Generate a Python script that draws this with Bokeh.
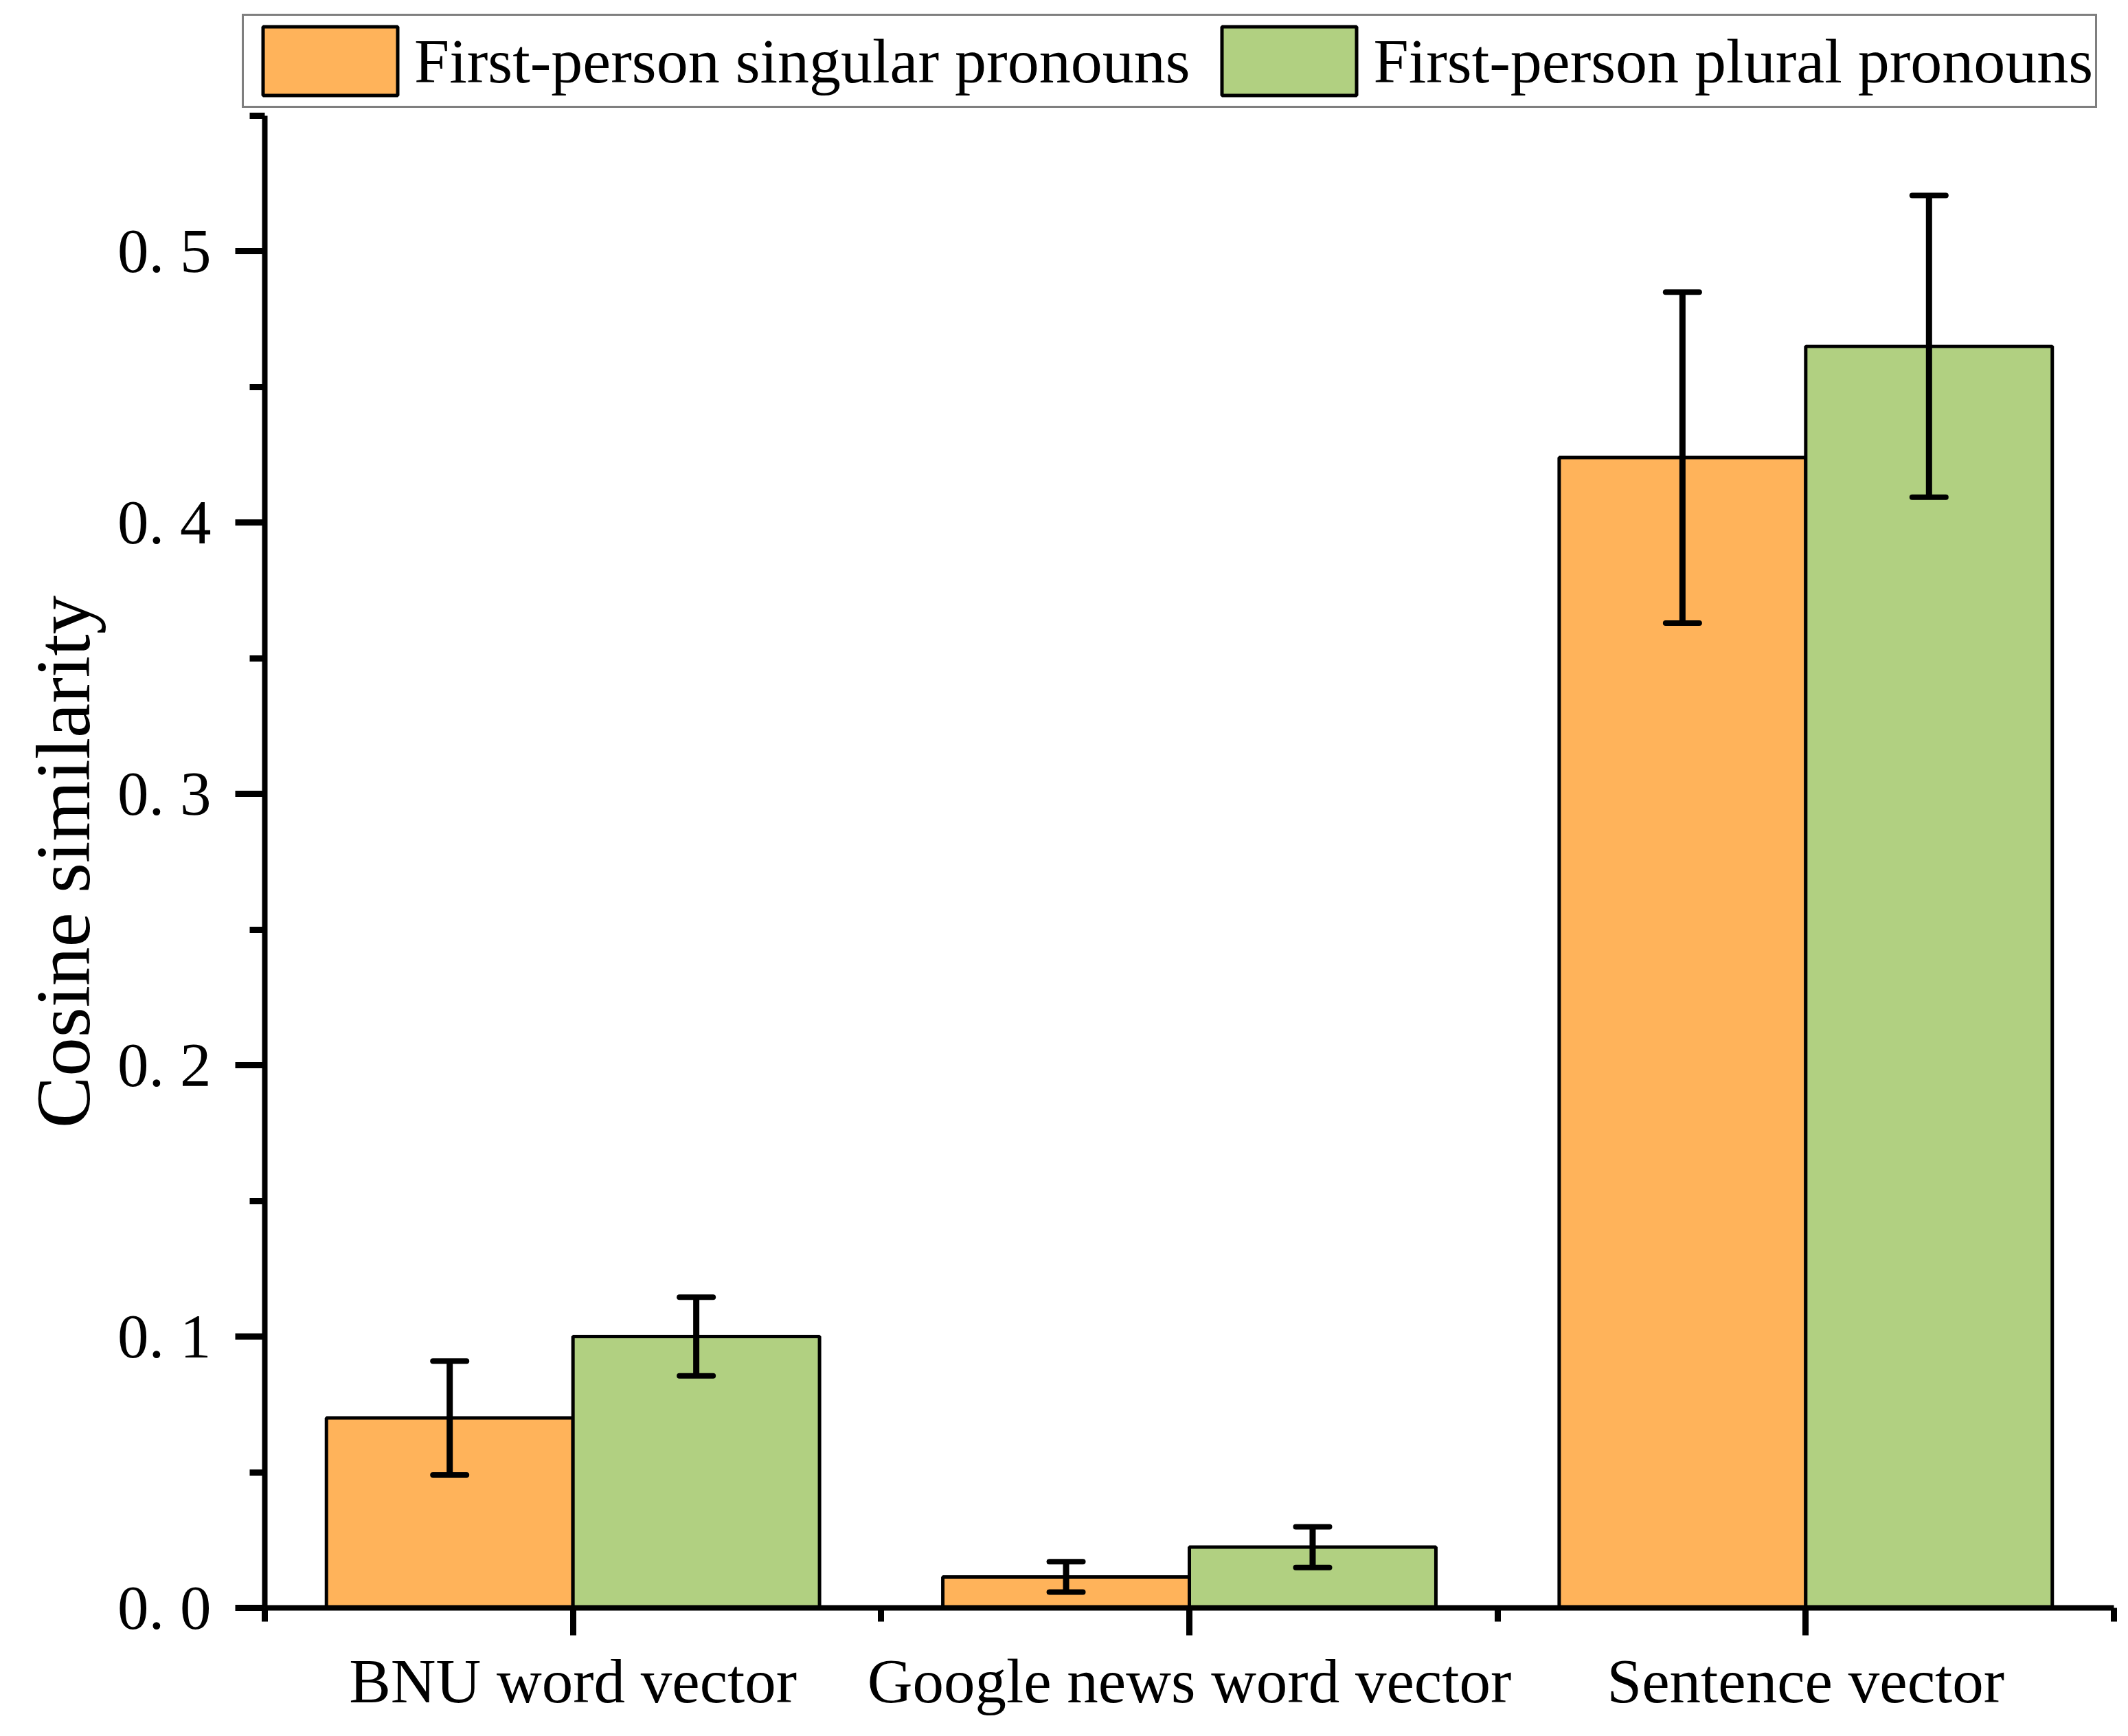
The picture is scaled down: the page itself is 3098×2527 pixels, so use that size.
import numpy as np
from bokeh.plotting import figure
from bokeh.layouts import column
from bokeh.models import (Range1d, FixedTicker, CustomJSTickFormatter, Whisker, TeeHead,
                          ColumnDataSource, Legend, LegendItem)
from bokeh.embed import file_html
from bokeh.resources import INLINE

# ---- data ----
categories = ["BNU word vector", "Google news word vector", "Sentence vector"]
series_names = ["First-person singular pronouns", "First-person plural pronouns"]
singular = [0.070, 0.0114, 0.424]
singular_err = [0.021, 0.0056, 0.061]
plural = [0.100, 0.0224, 0.465]
plural_err = [0.0145, 0.0075, 0.0556]
y_ticks = [0.0, 0.1, 0.2, 0.3, 0.4, 0.5]
y_minor = [0.05, 0.15, 0.25, 0.35, 0.45, 0.55]

ORANGE = "#FFB35A"
GREEN = "#B1D081"
FONT = "Liberation Serif"

n = len(categories)
centers = np.arange(n) + 0.5
bar_w = 0.4

src_s = ColumnDataSource(dict(
    x=centers - bar_w / 2, top=singular,
    upper=np.array(singular) + np.array(singular_err),
    lower=np.array(singular) - np.array(singular_err)))
src_p = ColumnDataSource(dict(
    x=centers + bar_w / 2, top=plural,
    upper=np.array(plural) + np.array(plural_err),
    lower=np.array(plural) - np.array(plural_err)))

W = 3082
LEG_H = 158

# ---- main plot ----
p = figure(width=W, height=2511 - LEG_H, x_range=Range1d(0, n), y_range=Range1d(0, 0.55),
           output_backend="svg", toolbar_location=None,
           min_border_left=385, min_border_right=5, min_border_top=168 - LEG_H,
           min_border_bottom=171)
p.frame_align = False
p.background_fill_color = "white"
p.border_fill_color = "white"
p.outline_line_color = None
p.xgrid.visible = False
p.ygrid.visible = False

bar_style = dict(width=bar_w, bottom=0, line_color="black", line_width=5)
p.vbar(x="x", top="top", source=src_s, fill_color=ORANGE, **bar_style)
p.vbar(x="x", top="top", source=src_p, fill_color=GREEN, **bar_style)

for src in (src_s, src_p):
    w = Whisker(source=src, base="x", upper="upper", lower="lower", dimension="height",
                line_color="black", line_width=9, level="overlay",
                upper_head=TeeHead(size=49, line_width=8, line_color="black", line_cap="round"),
                lower_head=TeeHead(size=49, line_width=8, line_color="black", line_cap="round"))
    p.add_layout(w)

xa = p.xaxis[0]
xa.ticker = FixedTicker(ticks=list(centers), minor_ticks=list(range(n + 1)))
xa.formatter = CustomJSTickFormatter(args=dict(labels=categories),
                                     code="return labels[Math.floor(tick)];")
ya = p.yaxis[0]
ya.ticker = FixedTicker(ticks=y_ticks, minor_ticks=y_minor)
ya.formatter = CustomJSTickFormatter(code="return tick.toFixed(1).replace('.', '. ');")

for ax in (xa, ya):
    ax.axis_line_color = "black"
    ax.axis_line_width = 8
    ax.major_tick_line_color = "black"
    ax.minor_tick_line_color = "black"
    ax.major_tick_line_width = 9
    ax.minor_tick_line_width = 9
    ax.major_tick_in = 0
    ax.minor_tick_in = 0
    ax.major_label_text_font = FONT
    ax.major_label_text_font_size = "91px"
    ax.major_label_text_color = "black"

xa.major_tick_out = 40
xa.minor_tick_out = 20
xa.major_label_standoff = 16
ya.major_tick_out = 43
ya.minor_tick_out = 22
ya.major_label_standoff = 35

ya.axis_label = "Cosine similarity"
ya.axis_label_text_font = FONT
ya.axis_label_text_font_size = "113px"
ya.axis_label_text_font_style = "normal"
ya.axis_label_text_color = "black"
ya.axis_label_standoff = 14

# ---- legend strip (legend proxies carry no drawable data) ----
lf = figure(width=W, height=LEG_H, x_range=Range1d(0, 1), y_range=Range1d(0, 1),
            output_backend="svg", toolbar_location=None,
            x_axis_location=None, y_axis_location=None,
            min_border_left=0, min_border_right=0, min_border_top=0, min_border_bottom=0)
lf.frame_align = False
lf.outline_line_color = None
lf.xgrid.visible = False
lf.ygrid.visible = False
lf.background_fill_color = "white"
lf.border_fill_color = "white"
proxy = ColumnDataSource(dict(x=np.array([np.nan]), top=np.array([np.nan])))
l_s = lf.vbar(x="x", top="top", source=proxy, fill_color=ORANGE, **bar_style)
l_p = lf.vbar(x="x", top="top", source=proxy, fill_color=GREEN, **bar_style)

legend = Legend(items=[LegendItem(label=series_names[0], renderers=[l_s]),
                       LegendItem(label=series_names[1], renderers=[l_p])],
                orientation="horizontal", location=(352, 1),
                padding=3, margin=0, spacing=22, label_standoff=0,
                glyph_width=245, glyph_height=125,
                label_text_font=FONT, label_text_font_size="92px", label_text_color="black",
                border_line_color="black", border_line_width=3,
                background_fill_color="white", background_fill_alpha=1.0)
lf.add_layout(legend, "center")

layout = column(lf, p, spacing=0)
open("out.html", "w").write(file_html(layout, INLINE))
